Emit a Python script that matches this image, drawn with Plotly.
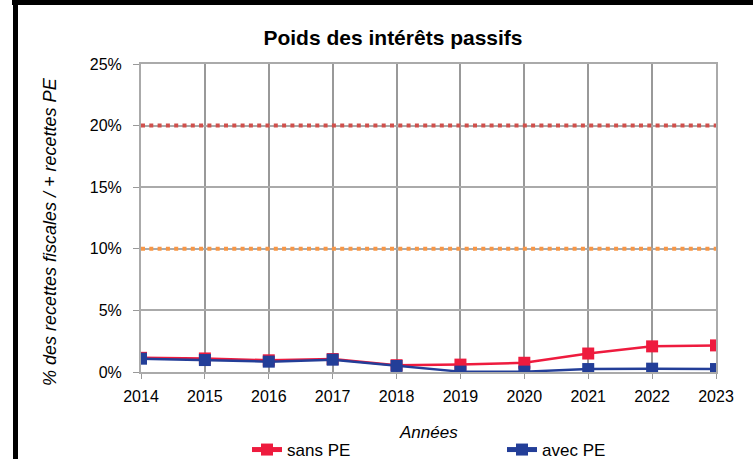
import plotly.graph_objects as go

years = [2014, 2015, 2016, 2017, 2018, 2019, 2020, 2021, 2022, 2023]
sans_pe = [1.15, 1.1, 0.95, 1.05, 0.55, 0.6, 0.75, 1.5, 2.08, 2.16]
avec_pe = [1.08, 0.97, 0.84, 1.0, 0.49, 0.03, 0.03, 0.24, 0.27, 0.24]
seuil_20 = [20] * len(years)
seuil_10 = [10] * len(years)

W, H = 753, 459
L, R, T, B = 141, 37, 64, 87
pw, ph = W - L - R, H - T - B

def px(x):
    return (x - L) / pw

def py(y):
    return (H - B - y) / ph

FONT = "Liberation Sans, Arial"
RED = "#EE1B3E"
BLUE = "#233E98"

fig = go.Figure()
fig.add_trace(go.Scatter(x=years, y=seuil_20, mode="lines", showlegend=False,
                         line=dict(color="#D0504C", width=4, dash="4px,4.3px"), hoverinfo="skip"))
fig.add_trace(go.Scatter(x=years, y=seuil_10, mode="lines", showlegend=False,
                         line=dict(color="#F79646", width=4, dash="4px,4.3px"), hoverinfo="skip"))
fig.add_trace(go.Scatter(x=years, y=sans_pe, mode="lines+markers", name="sans PE",
                         line=dict(color=RED, width=2.5),
                         marker=dict(symbol="square", size=12, color=RED)))
fig.add_trace(go.Scatter(x=years, y=avec_pe, mode="lines+markers", name="avec PE",
                         line=dict(color=BLUE, width=2.5),
                         marker=dict(symbol="square", size=12, color=BLUE)))

fig.update_layout(
    width=W, height=H,
    margin=dict(l=L, r=R, t=T, b=B, pad=0, autoexpand=False),
    paper_bgcolor="white", plot_bgcolor="white",
    font=dict(family=FONT, size=16, color="black"),
    title=dict(text="<b>Poids des intérêts passifs</b>", x=393 / W, xanchor="center",
               xref="container", yref="container",
               y=1 - 38 / H, yanchor="middle", font=dict(size=21, family=FONT)),
    showlegend=True,
    legend=dict(orientation="h", x=px(247), xanchor="left", y=py(450), yanchor="middle",
                entrywidth=210, entrywidthmode="pixels", font=dict(size=17),
                itemsizing="constant", bgcolor="rgba(0,0,0,0)", traceorder="normal"),
    xaxis=dict(range=[2014, 2023], tickmode="array", tickvals=years,
               ticktext=[str(y) for y in years], automargin=False,
               showgrid=True, gridcolor="#999999", gridwidth=1.5,
               showline=True, linecolor="#aaaaaa", linewidth=2, mirror=True,
               ticks="outside", ticklen=5, tickcolor="#999999",
               tickfont=dict(size=16), zeroline=False, ticklabelstandoff=4),
    yaxis=dict(range=[0, 25], tickmode="array", tickvals=[0, 5, 10, 15, 20, 25],
               ticktext=["0%", "5%", "10%", "15%", "20%", "25%"], automargin=False,
               showgrid=True, gridcolor="#aaaaaa", gridwidth=1.5,
               showline=True, linecolor="#aaaaaa", linewidth=2, mirror=True,
               ticks="outside", ticklen=6, tickcolor="#999999",
               tickfont=dict(size=16), zeroline=False, ticklabelstandoff=8),
    annotations=[
        dict(text="<i>Années</i>", xref="paper", yref="paper", x=px(428), y=py(432),
             xanchor="center", yanchor="middle", showarrow=False, font=dict(size=17)),
        dict(text="<i>% des recettes fiscales / + recettes PE</i>", xref="paper", yref="paper",
             x=px(50), y=py(232), xanchor="center", yanchor="middle", textangle=-90,
             showarrow=False, font=dict(size=18)),
    ],
    shapes=[
        dict(type="rect", xref="paper", yref="paper", x0=px(13), x1=px(18), y0=py(H + 5), y1=py(-5),
             fillcolor="black", line=dict(width=0), layer="above"),
        dict(type="rect", xref="paper", yref="paper", x0=px(12), x1=px(W + 5), y0=py(5), y1=py(-5),
             fillcolor="black", line=dict(width=0), layer="above"),
    ],
)

fig.write_html("out.html", config={"displayModeBar": False},
               post_script="document.body.style.margin='0';document.body.style.overflow='hidden';")
